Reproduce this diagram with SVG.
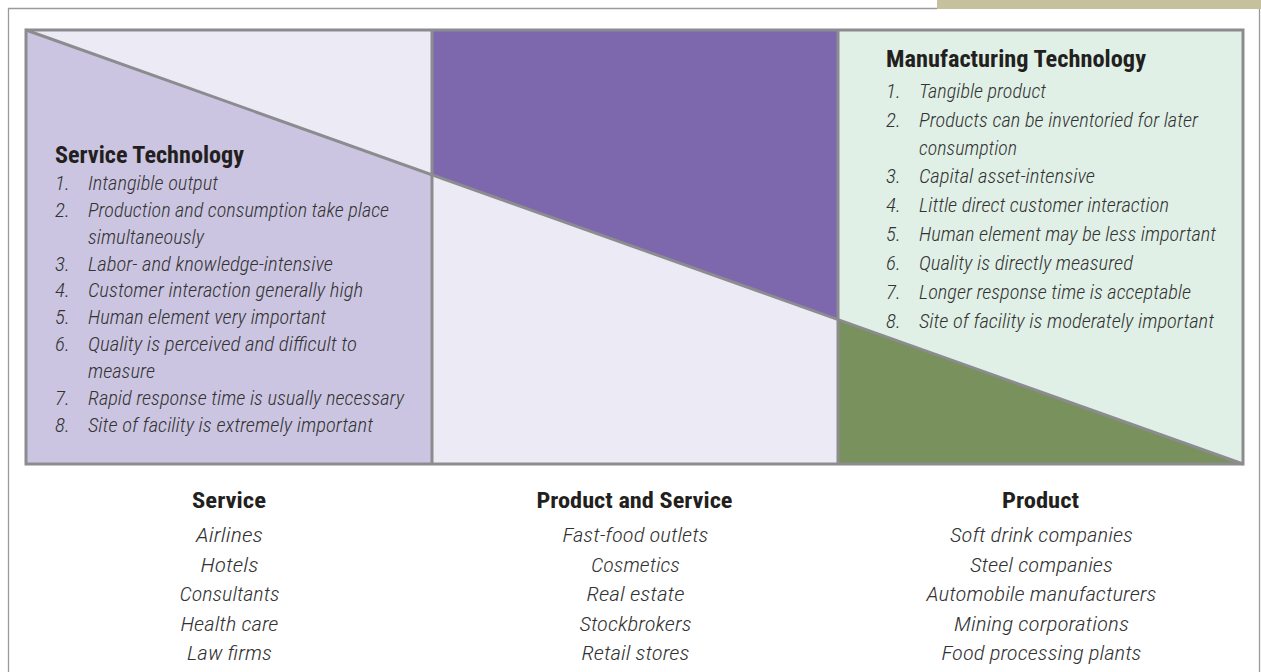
<svg xmlns="http://www.w3.org/2000/svg" width="1261" height="672" viewBox="0 0 1261 672">
<style>
text{font-family:"Liberation Sans Narrow","Roboto Condensed","Liberation Sans",Arial,sans-serif;fill:#231f20}
.t{font-weight:bold;font-size:23px}
.h{font-weight:bold;font-size:22px;text-anchor:middle}
.i{font-style:italic;font-weight:300;font-size:21px;fill:#333333}
.c{font-style:italic;font-weight:300;font-size:21px;fill:#333333;text-anchor:middle}
.edge{stroke:#8c8c90;stroke-width:3;fill:none}
.frame{stroke:#9a9a9a;stroke-width:1.3;fill:none}
</style>
<rect width="1261" height="672" fill="#ffffff"/>
<g id="page-frame">
<rect x="937" y="0" width="324" height="9" fill="#c5c19d"/>
<path class="frame" d="M8.5 672 V8.5 H937"/>
<path class="frame" d="M1259.5 9 V672"/>
</g>
<g id="service-technology">
<polygon points="26,30 432,30 432,174.8" fill="#ecebf5"/>
<polygon points="26,30 432,174.8 432,464 26,464" fill="#cbc5e1"/>
<text class="t" x="55" y="163" textLength="189" lengthAdjust="spacingAndGlyphs">Service Technology</text>
<text class="i" x="55" y="190">1.</text><text class="i" x="88" y="190" textLength="130" lengthAdjust="spacingAndGlyphs">Intangible output</text>
<text class="i" x="55" y="216.9">2.</text><text class="i" x="88" y="216.9" textLength="301" lengthAdjust="spacingAndGlyphs">Production and consumption take place</text>
<text class="i" x="88" y="243.7" textLength="116" lengthAdjust="spacingAndGlyphs">simultaneously</text>
<text class="i" x="55" y="270.6">3.</text><text class="i" x="88" y="270.6" textLength="245" lengthAdjust="spacingAndGlyphs">Labor- and knowledge-intensive</text>
<text class="i" x="55" y="297.4">4.</text><text class="i" x="88" y="297.4" textLength="275" lengthAdjust="spacingAndGlyphs">Customer interaction generally high</text>
<text class="i" x="55" y="324.3">5.</text><text class="i" x="88" y="324.3" textLength="238" lengthAdjust="spacingAndGlyphs">Human element very important</text>
<text class="i" x="55" y="351.2">6.</text><text class="i" x="88" y="351.2" textLength="269" lengthAdjust="spacingAndGlyphs">Quality is perceived and difficult to</text>
<text class="i" x="88" y="378" textLength="67" lengthAdjust="spacingAndGlyphs">measure</text>
<text class="i" x="55" y="404.9">7.</text><text class="i" x="88" y="404.9" textLength="316" lengthAdjust="spacingAndGlyphs">Rapid response time is usually necessary</text>
<text class="i" x="55" y="431.7">8.</text><text class="i" x="88" y="431.7" textLength="285" lengthAdjust="spacingAndGlyphs">Site of facility is extremely important</text>
</g>
<g id="product-and-service">
<polygon points="432,30 838,30 838,319.6 432,174.8" fill="#7d67ad"/>
<polygon points="432,174.8 838,319.6 838,464 432,464" fill="#ecebf5"/>
</g>
<g id="manufacturing-technology">
<polygon points="838,30 1243,30 1243,464 838,319.6" fill="#e0f0e6"/>
<polygon points="838,319.6 1243,464 838,464" fill="#79915c"/>
<text class="t" x="886" y="66.5" textLength="260" lengthAdjust="spacingAndGlyphs">Manufacturing Technology</text>
<text class="i" x="886" y="98.3">1.</text><text class="i" x="919" y="98.3" textLength="127" lengthAdjust="spacingAndGlyphs">Tangible product</text>
<text class="i" x="886" y="127">2.</text><text class="i" x="919" y="127" textLength="279" lengthAdjust="spacingAndGlyphs">Products can be inventoried for later</text>
<text class="i" x="919" y="155" textLength="98" lengthAdjust="spacingAndGlyphs">consumption</text>
<text class="i" x="886" y="183.3">3.</text><text class="i" x="919" y="183.3" textLength="176" lengthAdjust="spacingAndGlyphs">Capital asset-intensive</text>
<text class="i" x="886" y="212">4.</text><text class="i" x="919" y="212" textLength="250" lengthAdjust="spacingAndGlyphs">Little direct customer interaction</text>
<text class="i" x="886" y="241">5.</text><text class="i" x="919" y="241" textLength="297" lengthAdjust="spacingAndGlyphs">Human element may be less important</text>
<text class="i" x="886" y="270">6.</text><text class="i" x="919" y="270" textLength="214" lengthAdjust="spacingAndGlyphs">Quality is directly measured</text>
<text class="i" x="886" y="299.3">7.</text><text class="i" x="919" y="299.3" textLength="272" lengthAdjust="spacingAndGlyphs">Longer response time is acceptable</text>
<text class="i" x="886" y="328.3">8.</text><text class="i" x="919" y="328.3" textLength="295" lengthAdjust="spacingAndGlyphs">Site of facility is moderately important</text>
</g>
<g id="connectors">
<rect class="edge" x="26" y="30" width="1217" height="434"/>
<line class="edge" x1="432" y1="30" x2="432" y2="464"/>
<line class="edge" x1="838" y1="30" x2="838" y2="464"/>
<line class="edge" x1="26" y1="30" x2="1243" y2="464"/>
</g>
<g id="col-service">
<text class="h" x="229" y="508" textLength="74" lengthAdjust="spacingAndGlyphs">Service</text>
<text class="c" x="229.5" y="542.3" textLength="67" lengthAdjust="spacingAndGlyphs">Airlines</text>
<text class="c" x="229.5" y="571.7" textLength="58" lengthAdjust="spacingAndGlyphs">Hotels</text>
<text class="c" x="229.5" y="601.3" textLength="100" lengthAdjust="spacingAndGlyphs">Consultants</text>
<text class="c" x="229.5" y="630.8" textLength="98" lengthAdjust="spacingAndGlyphs">Health care</text>
<text class="c" x="229.5" y="660.3" textLength="85" lengthAdjust="spacingAndGlyphs">Law firms</text>
</g>
<g id="col-product-and-service">
<text class="h" x="634.5" y="508" textLength="196" lengthAdjust="spacingAndGlyphs">Product and Service</text>
<text class="c" x="635.5" y="542.3" textLength="146" lengthAdjust="spacingAndGlyphs">Fast-food outlets</text>
<text class="c" x="635.5" y="571.7" textLength="89" lengthAdjust="spacingAndGlyphs">Cosmetics</text>
<text class="c" x="635.5" y="601.3" textLength="98" lengthAdjust="spacingAndGlyphs">Real estate</text>
<text class="c" x="635.5" y="630.8" textLength="112" lengthAdjust="spacingAndGlyphs">Stockbrokers</text>
<text class="c" x="635.5" y="660.3" textLength="108" lengthAdjust="spacingAndGlyphs">Retail stores</text>
</g>
<g id="col-product">
<text class="h" x="1040.5" y="508" textLength="77" lengthAdjust="spacingAndGlyphs">Product</text>
<text class="c" x="1041.5" y="542.3" textLength="183" lengthAdjust="spacingAndGlyphs">Soft drink companies</text>
<text class="c" x="1041.5" y="571.7" textLength="143" lengthAdjust="spacingAndGlyphs">Steel companies</text>
<text class="c" x="1041.5" y="601.3" textLength="230" lengthAdjust="spacingAndGlyphs">Automobile manufacturers</text>
<text class="c" x="1041.5" y="630.8" textLength="175" lengthAdjust="spacingAndGlyphs">Mining corporations</text>
<text class="c" x="1041.5" y="660.3" textLength="200" lengthAdjust="spacingAndGlyphs">Food processing plants</text>
</g>
</svg>
